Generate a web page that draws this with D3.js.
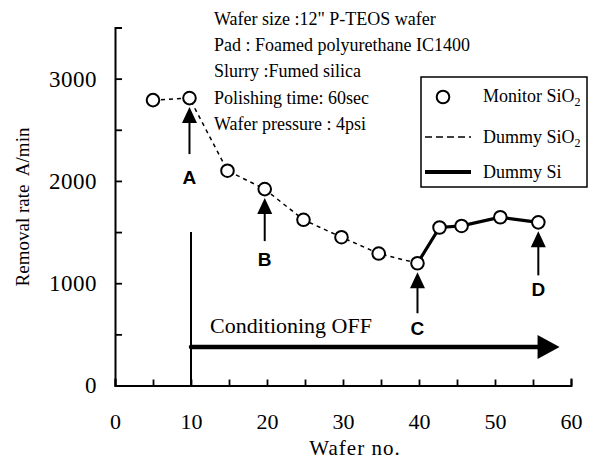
<!DOCTYPE html>
<html>
<head>
<meta charset="utf-8">
<script src="https://cdn.jsdelivr.net/npm/d3@7"></script>
<style>
  body { margin: 0; background: #fff; }
  svg text { font-family: "Liberation Serif", "Times New Roman", serif; fill: #000; }
  .letter { font-family: "Liberation Sans", Arial, sans-serif; font-weight: bold; }
</style>
</head>
<body>
<script>
// values
var wafers = [5, 9.8, 14.8, 19.7, 24.8, 29.8, 34.7, 39.8, 42.7, 45.6, 50.7, 55.7];
var rates = [2790, 2810, 2100, 1920, 1620, 1450, 1290, 1195, 1545, 1560, 1645, 1595];
var dummySiStart = 7; // from wafer 40 on the dummy is Si
var xTicks = [0, 10, 20, 30, 40, 50, 60];
var yTicks = [0, 1000, 2000, 3000];
var notes = [
  "Wafer size :12\" P-TEOS wafer",
  "Pad : Foamed polyurethane IC1400",
  "Slurry :Fumed silica",
  "Polishing time: 60sec",
  "Wafer pressure : 4psi"
];
var markLabels = ["A", "B", "C", "D"];
var markIndex = [1, 3, 7, 11];

var svgWidth = 589;
var svgHeight = 460;

var svg = d3.select("body").append("svg")
  .attr("width", svgWidth)
  .attr("height", svgHeight);

var x = d3.scaleLinear().domain([0, 60]).range([115, 571]);
var y = d3.scaleLinear().domain([0, 3500]).range([385.5, 27.5]);

var pts = wafers.map(function(w, i) { return { w: w, r: rates[i] }; });

// axes
var xAxis = d3.axisBottom(x)
  .tickValues(d3.range(0, 61, 5))
  .tickSizeInner(-6)
  .tickSizeOuter(-7)
  .tickPadding(28)
  .tickFormat(function(d) { return xTicks.indexOf(d) >= 0 ? d : ""; });

var yAxis = d3.axisLeft(y)
  .tickValues(d3.range(0, 3001, 500))
  .tickSizeInner(-7)
  .tickSizeOuter(-7)
  .tickPadding(18)
  .tickFormat(function(d) { return yTicks.indexOf(d) >= 0 ? d : ""; });

var gx = svg.append("g")
  .attr("transform", "translate(0," + y(0) + ")")
  .call(xAxis);
var gy = svg.append("g")
  .attr("transform", "translate(" + x(0) + ",0)")
  .call(yAxis);

[gx, gy].forEach(function(g) {
  g.select(".domain").attr("stroke-width", 2);
  g.selectAll(".tick line").attr("stroke-width", 1.8);
  g.selectAll("text")
    .style("font-family", "Liberation Serif, Times New Roman, serif")
    .style("font-size", "22px");
});
gy.selectAll("text").style("font-size", "23px").style("letter-spacing", "0.5px");

svg.append("text")
  .attr("x", 355)
  .attr("y", 455)
  .attr("text-anchor", "middle")
  .style("font-size", "21px")
  .style("letter-spacing", "1px")
  .text("Wafer no.");

svg.append("text")
  .attr("transform", "translate(29," + 207 + ") rotate(-90)")
  .attr("text-anchor", "middle")
  .style("font-size", "19px")
  .attr("xml:space", "preserve")
  .text("Removal rate  A/min");

// notes
svg.append("g").selectAll("text")
  .data(notes)
  .enter()
  .append("text")
  .attr("x", 214)
  .attr("y", function(d, i) { return 25 + i * 26.2; })
  .style("font-size", "18px")
  .text(function(d) { return d; });

// conditioning off
svg.append("line")
  .attr("x1", x(10)).attr("x2", x(10))
  .attr("y1", 232).attr("y2", y(0))
  .attr("stroke", "#000").attr("stroke-width", 2);

var condY = 347;
svg.append("line")
  .attr("x1", x(10)).attr("x2", x(56.3))
  .attr("y1", condY).attr("y2", condY)
  .attr("stroke", "#000").attr("stroke-width", 4.5)
  .attr("stroke-linecap", "round");
svg.append("path")
  .attr("d", "M" + x(55.6) + "," + (condY - 12) + "L" + x(58.5) + "," + condY + "L" + x(55.6) + "," + (condY + 12) + "Z")
  .attr("fill", "#000");
svg.append("text")
  .attr("x", 210)
  .attr("y", 333)
  .style("font-size", "22px")
  .text("Conditioning OFF");

// lines
var line = d3.line().x(function(d) { return x(d.w); }).y(function(d) { return y(d.r); });

svg.append("path")
  .datum(pts.slice(0, dummySiStart + 1))
  .attr("d", line)
  .attr("fill", "none")
  .attr("stroke", "#000")
  .attr("stroke-width", 1.5)
  .attr("stroke-dasharray", "4,4");

svg.append("path")
  .datum(pts.slice(dummySiStart))
  .attr("d", line)
  .attr("fill", "none")
  .attr("stroke", "#000")
  .attr("stroke-width", 3.2);

svg.append("g").selectAll("circle")
  .data(pts)
  .enter()
  .append("circle")
  .attr("cx", function(d) { return x(d.w); })
  .attr("cy", function(d) { return y(d.r); })
  .attr("r", 6.3)
  .attr("fill", "#fff")
  .attr("stroke", "#000")
  .attr("stroke-width", 2);

// arrows A-D
var shaftLen = { A: 47, B: 43, C: 41, D: 44 };
var labelGap = { A: 30, B: 25, C: 22, D: 21 };
markLabels.forEach(function(lab, k) {
  var p = pts[markIndex[k]];
  var cx = x(p.w);
  var tip = y(p.r) + 9;
  var end = tip + shaftLen[lab];
  svg.append("line")
    .attr("x1", cx).attr("x2", cx)
    .attr("y1", tip + 10).attr("y2", end)
    .attr("stroke", "#000").attr("stroke-width", 2);
  svg.append("path")
    .attr("d", "M" + cx + "," + tip + "L" + (cx + 7.5) + "," + (tip + 16) + "L" + (cx - 7.5) + "," + (tip + 16) + "Z")
    .attr("fill", "#000");
  svg.append("text")
    .attr("class", "letter")
    .attr("x", cx)
    .attr("y", end + labelGap[lab])
    .attr("text-anchor", "middle")
    .style("font-size", "19px")
    .text(lab);
});

// legend
var leg = svg.append("g");
leg.append("rect")
  .attr("x", 421).attr("y", 77)
  .attr("width", 166).attr("height", 110)
  .attr("fill", "#fff")
  .attr("stroke", "#000")
  .attr("stroke-width", 1.5);
leg.append("circle")
  .attr("cx", 443).attr("cy", 97).attr("r", 6.3)
  .attr("fill", "#fff").attr("stroke", "#000").attr("stroke-width", 2);
leg.append("line")
  .attr("x1", 425).attr("x2", 471).attr("y1", 137).attr("y2", 137)
  .attr("stroke", "#000").attr("stroke-width", 1.5).attr("stroke-dasharray", "7,4");
leg.append("line")
  .attr("x1", 425).attr("x2", 471).attr("y1", 172).attr("y2", 172)
  .attr("stroke", "#000").attr("stroke-width", 4);

var legItems = [["Monitor SiO", "2", 102], ["Dummy SiO", "2", 143], ["Dummy Si", "", 178]];
legItems.forEach(function(it) {
  var t = leg.append("text")
    .attr("x", 483).attr("y", it[2])
    .style("font-size", "18px");
  t.append("tspan").text(it[0]);
  if (it[1]) {
    t.append("tspan").attr("dy", 4).style("font-size", "12px").text(it[1]);
  }
});
</script>
</body>
</html>
